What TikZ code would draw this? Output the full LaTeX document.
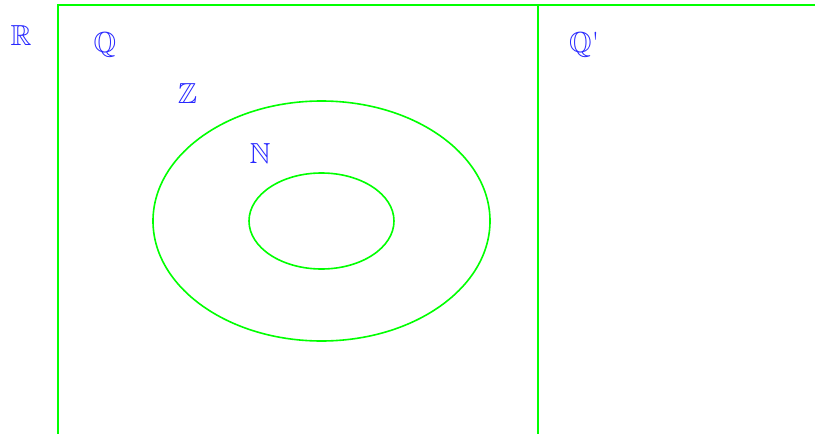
\documentclass[tikz,border=0pt]{standalone}
\usepackage{amssymb}
\definecolor{vgreen}{RGB}{0,255,0}
\definecolor{vblue}{RGB}{40,40,255}
\begin{document}
\begin{tikzpicture}[x=1pt,y=-1pt,
  setline/.style={draw=vgreen,line width=1.6pt},
  setlabel/.style={text=vblue,font=\fontsize{29}{32}\selectfont,inner sep=0pt,anchor=center}]
\useasboundingbox (0,0) rectangle (815,434);
\draw[setline] (58,434) -- (58,5) -- (815,5);
\draw[setline] (538,5) -- (538,434);
\draw[setline] (321.5,221) ellipse [x radius=168.5,y radius=120];
\draw[setline] (321.5,221) ellipse [x radius=72.5,y radius=48];
\node[setlabel] (R) at (21,36) {$\mathbb{R}$};
\node[setlabel] (Q) at (105,45) {$\mathbb{Q}$};
\node[setlabel] (Z) at (187.5,94) {$\mathbb{Z}$};
\node[setlabel] (N) at (260,154) {$\mathbb{N}$};
\node[setlabel,anchor=west] (Qp) at (569,45) {$\mathbb{Q}$\textquotesingle};
\end{tikzpicture}
\end{document}
